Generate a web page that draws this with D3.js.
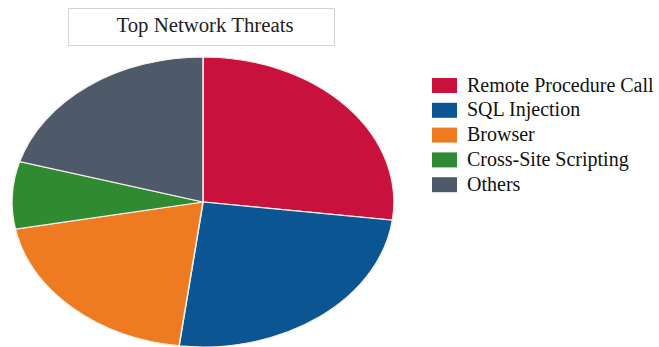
<!DOCTYPE html>
<html>
<head>
<meta charset="utf-8">
<script src="https://cdn.jsdelivr.net/npm/d3@7"></script>
<style>
  body { margin: 0; background: #fff; }
  svg { display: block; }
</style>
</head>
<body>
<svg></svg>
<script>
var categories = ["Remote Procedure Call", "SQL Injection", "Browser", "Cross-Site Scripting", "Others"];
var values = [27, 25, 20, 7.5, 20.5];
var colors = ["#c8113c", "#0b5592", "#ee7b22", "#2f8a32", "#4e5a69"];

var svg = d3.select("svg")
  .attr("width", 659)
  .attr("height", 347);

// title box
svg.append("rect")
  .attr("x", 68.5).attr("y", 8.5)
  .attr("width", 266).attr("height", 37)
  .attr("fill", "#fff")
  .attr("stroke", "#d4d4d4");

svg.append("text")
  .attr("transform", "translate(205,32) scale(1.04,1)")
  .attr("text-anchor", "middle")
  .style("font-family", "Liberation Serif, serif")
  .style("font-size", "20px")
  .attr("fill", "#222")
  .text("Top Network Threats");

// pie, drawn as a circle and squashed into an ellipse
var r = 100, rx = 191, ry = 145;
var pie = d3.pie().sort(null).value(function(d) { return d; });
var arc = d3.arc().innerRadius(0).outerRadius(r);

var g = svg.append("g")
  .attr("transform", "translate(203,202) scale(" + (rx / r) + "," + (ry / r) + ")");

g.selectAll("path")
  .data(pie(values))
  .enter()
  .append("path")
  .attr("d", arc)
  .attr("fill", function(d, i) { return colors[i]; })
  .attr("stroke", "#f4f0ea")
  .attr("stroke-width", 0.8);

// legend
var legend = svg.append("g")
  .attr("transform", "translate(432,78)");

var item = legend.selectAll("g")
  .data(categories)
  .enter()
  .append("g")
  .attr("transform", function(d, i) { return "translate(0," + (i * 24.8) + ")"; });

item.append("rect")
  .attr("width", 25)
  .attr("height", 15)
  .attr("fill", function(d, i) { return colors[i]; });

item.append("text")
  .attr("x", 35)
  .attr("y", 13.5)
  .style("font-family", "Liberation Serif, serif")
  .style("font-size", "20px")
  .attr("fill", "#111")
  .text(function(d) { return d; });
</script>
</body>
</html>
